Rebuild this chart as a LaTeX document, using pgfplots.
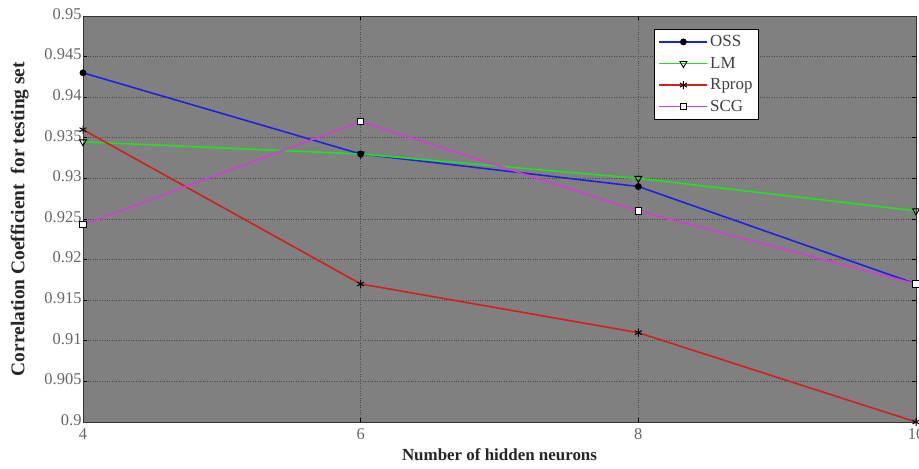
\documentclass[border=0pt]{standalone}
\usepackage{pgfplots}
\pgfplotsset{compat=1.18}
\usepackage{fontspec}
\setmainfont{Liberation Serif}
\usetikzlibrary{calc}
\definecolor{bggray}{HTML}{808080}
\definecolor{lblue}{HTML}{2020E0}
\definecolor{lgreen}{HTML}{20E020}
\definecolor{lred}{HTML}{D02020}
\definecolor{lmag}{HTML}{D040D0}
\begin{document}
\begin{tikzpicture}
\begin{axis}[
  scale only axis,
  width=833bp, height=406bp,
  xmin=4, xmax=10, ymin=0.9, ymax=0.95,
  xtick={4,6,8,10},
  ytick={0.9,0.905,...,0.951},
  yticklabel style={/pgf/number format/fixed,/pgf/number format/precision=3, xshift=2bp, yshift=2bp},
  xticklabel style={yshift=-3bp},
  /pgf/number format/assume math mode=true,
  tick label style={font=\fontsize{16.5}{18}\selectfont, text=black!60},
  axis background/.style={fill=bggray},
  grid=major,
  major grid style={black!70, dotted, line width=0.6pt},
  tick style={black, line width=0.6pt},
  tick align=inside,
  axis line style={black!80, line width=0.8pt},
  xlabel={\textbf{Number of hidden neurons}},
  ylabel={\textbf{Correlation Coefficient \ for testing set}},
  xlabel style={font=\fontsize{17}{19}\selectfont, text=black!85, yshift=-2bp},
  ylabel style={font=\fontsize{19.5}{21}\selectfont, text=black!85, yshift=9bp},
  legend style={at={(0.686,0.967)}, anchor=north west, font=\fontsize{17}{19}\selectfont,
    draw=black, fill=white, row sep=5pt, inner sep=4pt, text=black!75},
  legend cell align=left,
  legend image code/.code={
    \draw[mark repeat=2,mark phase=2] plot coordinates {(0bp,0bp) (24bp,0bp) (48bp,0bp)};
  },
  every axis plot/.append style={line width=1.6pt},
]
\addplot[lblue, mark=*, mark options={black, fill=black, scale=1.3}] coordinates {(4,0.943) (6,0.933) (8,0.929) (10,0.917)};
\addlegendentry{OSS}
\addplot[lgreen, mark=triangle, mark options={black, fill=white, rotate=180, scale=2.0, line width=0.9pt}] coordinates {(4,0.9345) (6,0.933) (8,0.930) (10,0.926)};
\addlegendentry{LM}
\addplot[lred, mark=asterisk, mark options={black, scale=2.0, line width=1pt}] coordinates {(4,0.936) (6,0.917) (8,0.911) (10,0.900)};
\addlegendentry{Rprop}
\addplot[lmag, mark=square*, mark options={black, fill=white, scale=1.6, line width=0.9pt}] coordinates {(4,0.9243) (6,0.937) (8,0.926) (10,0.917)};
\addlegendentry{SCG}
\end{axis}
\pgfresetboundingbox
\useasboundingbox ($(current axis.south west)+(-83bp,-47bp)$) rectangle ($(current axis.north east)+(3bp,16bp)$);
\end{tikzpicture}
\end{document}
